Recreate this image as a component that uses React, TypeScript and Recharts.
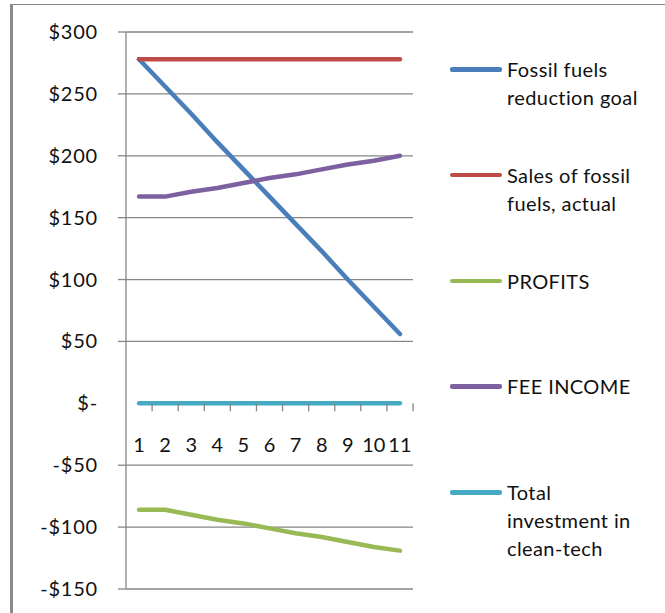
import { LineChart, Line, XAxis, YAxis, CartesianGrid } from "recharts";

const CATEGORIES = ["1", "2", "3", "4", "5", "6", "7", "8", "9", "10", "11"];
const REDUCTION_GOAL = [278, 256, 234, 211, 189, 167, 145, 123, 100, 78, 56];
const SALES_ACTUAL = [278, 278, 278, 278, 278, 278, 278, 278, 278, 278, 278];
const PROFITS = [-86, -86, -90, -94, -97, -101, -105, -108, -112, -116, -119];
const FEE_INCOME = [167, 167, 171, 174, 178, 182, 185, 189, 193, 196, 200];
const CLEAN_TECH = [0, 0, 0, 0, 0, 0, 0, 0, 0, 0, 0];
const Y_TICKS = [-150, -100, -50, 0, 50, 100, 150, 200, 250, 300];

const SERIES = [
  { key: "goal", name: "Fossil fuels\nreduction goal", color: "#4a7ebb", values: REDUCTION_GOAL },
  { key: "sales", name: "Sales of fossil\nfuels, actual", color: "#be4b48", values: SALES_ACTUAL },
  { key: "profits", name: "PROFITS", color: "#98b954", values: PROFITS },
  { key: "fee", name: "FEE INCOME", color: "#7d60a0", values: FEE_INCOME },
  { key: "clean", name: "Total\ninvestment in\nclean-tech", color: "#46aac5", values: CLEAN_TECH },
];

const data = CATEGORIES.map((cat, i) => {
  const row: Record<string, any> = { cat };
  SERIES.forEach((s) => { row[s.key] = s.values[i]; });
  return row;
});

const W = 665, H = 613;
const TOP = 32, BOTTOM = 23, LEFT = 126, RIGHT = 252;
const PLOT_H = H - TOP - BOTTOM - 1;
const Y_MIN = -150, Y_MAX = 300;
const ZERO_Y = TOP + (PLOT_H * Y_MAX) / (Y_MAX - Y_MIN);
const BAND = (W - LEFT - RIGHT) / CATEGORIES.length;
const FONT = "Lato, 'Open Sans', sans-serif";
const GRAY = "#868686";

const fmt = (v: number) => (v === 0 ? "$-" : v < 0 ? `-$${-v}` : `$${v}`);

const XTick = ({ x, payload }: any) => (
  <g>
    <line x1={x + BAND / 2} x2={x + BAND / 2} y1={ZERO_Y} y2={ZERO_Y + 8} stroke={GRAY} strokeWidth={1.3} />
    <text x={x} y={ZERO_Y + 49} textAnchor="middle" fontFamily={FONT} fontSize={20} fill="#111">{payload.value}</text>
  </g>
);

const YTick = ({ y, payload }: any) => (
  <g>
    {payload.value !== 0 && <line x1={LEFT - 8} x2={LEFT} y1={y} y2={y} stroke={GRAY} strokeWidth={1.3} />}
    <text x={LEFT - 28} y={y} dy="0.35em" textAnchor="end" fontFamily={FONT} fontSize={20} letterSpacing={0.8} fill="#111">{fmt(payload.value)}</text>
  </g>
);

export default function App() {
  return (
    <div style={{ position: "fixed", left: 0, top: 0, width: W, height: H, background: "#fff", overflow: "hidden" }}>
      {/* chart frame, cropped on the right and bottom */}
      <div style={{ position: "absolute", left: 9.5, top: 4, width: 700, height: 700, borderLeft: "3px solid #8a8a8a", borderTop: "1.5px solid #8a8a8a" }} />
      <div style={{ position: "absolute", left: 0, top: 0 }}>
        <LineChart width={W} height={H} data={data} margin={{ top: TOP, right: RIGHT, bottom: BOTTOM, left: 0 }}>
          <CartesianGrid vertical={false} stroke={GRAY} strokeWidth={1.3} horizontalValues={Y_TICKS.filter((t) => t !== 0)} />
          <XAxis dataKey="cat" height={1} padding={{ left: BAND / 2, right: BAND / 2 }} axisLine={false} tickLine={false} tick={<XTick />} interval={0} />
          <YAxis width={LEFT} domain={[Y_MIN, Y_MAX]} ticks={Y_TICKS} interval={0} axisLine={{ stroke: GRAY, strokeWidth: 1.3 }} tickLine={false} tick={<YTick />} />
          {SERIES.map((s) => (
            <Line key={s.key} dataKey={s.key} name={s.name} stroke={s.color} strokeWidth={4.5} strokeLinecap="round" strokeLinejoin="round" dot={false} isAnimationActive={false} />
          ))}
        </LineChart>
      </div>
      {/* legend */}
      <div style={{ position: "absolute", left: 450, top: 55, width: 215, fontFamily: FONT, fontSize: 20, color: "#111" }}>
        {SERIES.map((s) => (
          <div key={s.key} style={{ height: 105.75, display: "flex", alignItems: "flex-start" }}>
            <div style={{ width: 52, height: 4.5, background: s.color, borderRadius: 2, marginTop: 12, flexShrink: 0 }} />
            <div style={{ marginLeft: 5, lineHeight: "28px", whiteSpace: "pre-line", letterSpacing: 0.4 }}>{s.name}</div>
          </div>
        ))}
      </div>
    </div>
  );
}
